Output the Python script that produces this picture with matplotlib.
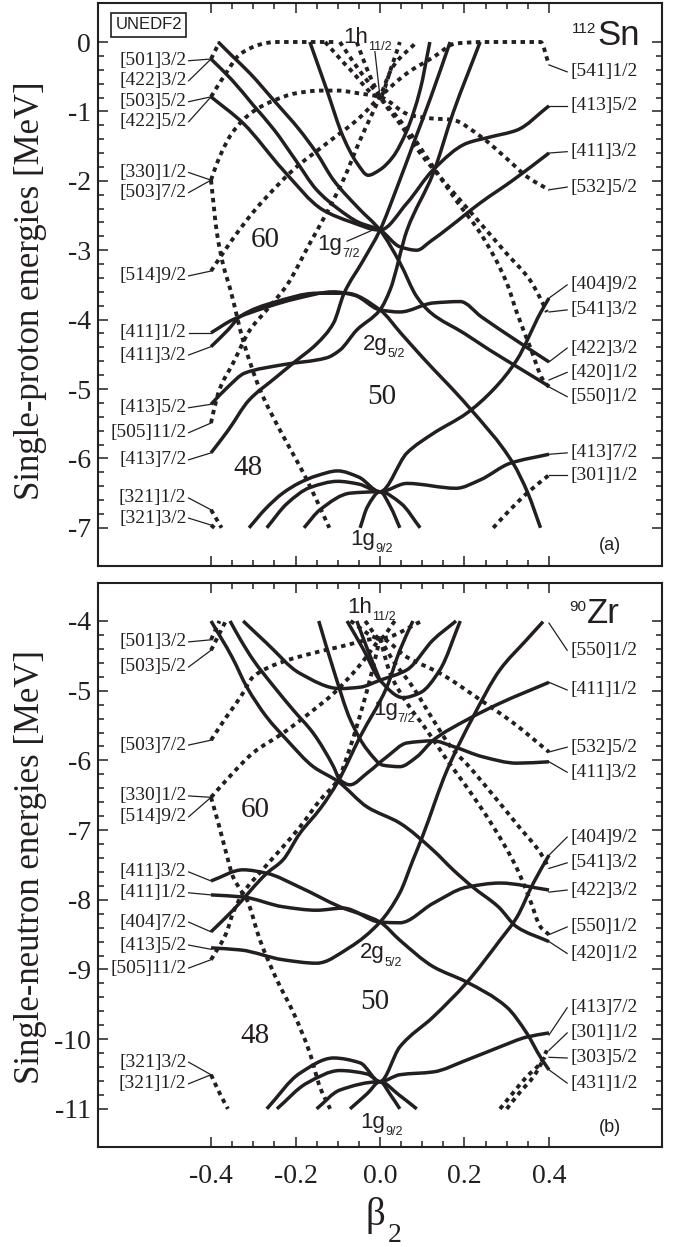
import matplotlib
matplotlib.use('Agg')
import matplotlib.pyplot as plt
from matplotlib.ticker import FixedLocator, FixedFormatter
from matplotlib.path import Path
from matplotlib.patches import PathPatch

plt.rcParams['axes.unicode_minus'] = False
SERIF = 'Liberation Serif'
SANS = 'Liberation Sans'
INK = '#231f20'

# ---------------- data: panel (a) 112Sn protons ----------------
a_s1 = ([-0.383, -0.35, -0.308, -0.25, -0.19, -0.15, -0.11, -0.05, 0.0, 0.047, 0.087, 0.12, 0.2, 0.26, 0.33, 0.4],
        [0.0, -0.2, -0.45, -0.85, -1.27, -1.6, -1.99, -2.4, -2.71, -3.18, -3.67, -3.9, -4.2, -4.44, -4.7, -4.96])
a_s2 = ([-0.4, -0.35, -0.3, -0.25, -0.2, -0.15, -0.1, -0.05, 0.0, 0.047, 0.087, 0.12, 0.166, 0.237, 0.315, 0.4],
        [-0.245, -0.55, -0.91, -1.27, -1.7, -2.13, -2.4, -2.6, -2.71, -2.95, -3.0, -2.87, -2.66, -2.32, -1.99, -1.6])
a_s3 = ([-0.4, -0.324, -0.23, -0.135, -0.07, 0.0, 0.064, 0.126, 0.205, 0.26, 0.324, 0.4],
        [-0.79, -1.17, -1.84, -2.42, -2.59, -2.71, -2.32, -1.84, -1.46, -1.37, -1.27, -0.92])
a_s4 = ([-0.4, -0.36, -0.31, -0.25, -0.2, -0.15, -0.11, -0.085, -0.04, 0.0, 0.04, 0.08, 0.12, 0.166],
        [-5.92, -5.6, -5.16, -4.85, -4.6, -4.35, -4.05, -3.62, -3.15, -2.71, -2.1, -1.45, -0.8, 0.0])
a_s5 = ([-0.4, -0.36, -0.32, -0.23, -0.126, -0.095, -0.055, 0.0, 0.024, 0.064, 0.126, 0.173, 0.237],
        [-5.22, -4.97, -4.77, -4.65, -4.55, -4.44, -4.15, -3.86, -3.57, -2.71, -1.89, -1.02, 0.0])
a_s6 = ([-0.4, -0.348, -0.268, -0.2, -0.11, -0.06, 0.0, 0.047, 0.126, 0.19, 0.24, 0.32, 0.4],
        [-4.19, -4.0, -3.82, -3.7, -3.6, -3.65, -3.86, -3.89, -3.76, -3.74, -3.96, -4.29, -4.61])
a_s7 = ([-0.4, -0.36, -0.33, -0.25, -0.15, -0.08, 0.0, 0.05, 0.1, 0.21, 0.315, 0.35, 0.38],
        [-4.39, -4.15, -3.95, -3.75, -3.62, -3.62, -3.86, -4.2, -4.54, -5.26, -6.07, -6.5, -7.0])
a_s8 = ([-0.166, -0.126, -0.087, -0.055, -0.028, 0.0, 0.03, 0.064, 0.095, 0.118],
        [0.0, -0.69, -1.37, -1.74, -1.92, -1.84, -1.66, -1.27, -0.69, 0.0])
a_s9 = ([-0.31, -0.27, -0.23, -0.19, -0.15, -0.1, -0.05, 0.0, 0.064, 0.18, 0.237, 0.308, 0.4],
        [-7.0, -6.72, -6.5, -6.35, -6.25, -6.18, -6.27, -6.48, -6.36, -6.43, -6.31, -6.07, -5.94])
a_s10 = ([-0.268, -0.22, -0.166, -0.1, -0.05, 0.0, 0.064, 0.126, 0.205, 0.268, 0.324, 0.38, 0.4],
         [-7.0, -6.65, -6.42, -6.33, -6.37, -6.48, -5.92, -5.64, -5.35, -5.01, -4.58, -3.9, -3.69])
a_s11 = ([-0.18, -0.142, -0.07, 0.0, 0.05, 0.095], [-7.0, -6.74, -6.5, -6.48, -6.65, -7.0])
a_s12 = ([-0.047, -0.03, 0.0, 0.025, 0.047], [-7.0, -6.7, -6.48, -6.7, -7.0])

a_d1 = ([-0.4, -0.38], [-0.245, 0.0])
a_d2 = ([-0.4, -0.37, -0.33, -0.28, -0.25, -0.15, -0.1], [-0.79, -0.5, -0.17, -0.03, 0.0, 0.0, 0.0])
a_d3 = ([-0.4, -0.386, -0.37, -0.355, -0.324, -0.284, -0.237, -0.2, -0.173, -0.12],
        [-1.99, -2.75, -3.24, -3.55, -4.3, -5.01, -5.59, -6.0, -6.31, -7.0])
a_d4 = ([-0.4, -0.395, -0.38, -0.35, -0.3, -0.25, -0.2, -0.14, -0.1, -0.05, 0.0, 0.07, 0.12, 0.17, 0.24, 0.3, 0.35, 0.4],
        [-1.99, -1.9, -1.66, -1.31, -1.0, -0.84, -0.74, -0.7, -0.7, -0.74, -0.79, -1.05, -1.1, -1.12, -1.37, -1.68, -1.95, -2.13])
a_d5 = ([-0.4, -0.35, -0.3, -0.268, -0.205, -0.126, -0.05, 0.0, 0.064, 0.126, 0.18, 0.25, 0.32, 0.38, 0.4],
        [-3.3, -2.85, -2.45, -2.23, -1.84, -1.46, -1.1, -0.79, -0.45, -0.22, -0.02, 0.0, 0.0, 0.0, -0.33])
a_d6 = ([-0.4, -0.395, -0.38, -0.348, -0.308, -0.268, -0.22, -0.166, -0.126, -0.087, -0.047, 0.0, 0.03, 0.087],
        [-5.49, -5.35, -5.01, -4.63, -4.15, -3.86, -3.5, -2.9, -2.46, -1.99, -1.41, -0.79, -0.36, 0.0])
a_d7 = ([-0.095, -0.05, 0.0, 0.071, 0.126, 0.18, 0.237, 0.3, 0.324, 0.355, 0.386, 0.4],
        [0.0, -0.4, -0.79, -1.31, -1.8, -2.28, -2.75, -3.47, -3.9, -4.39, -4.87, -4.97])
a_d8 = ([-0.055, -0.03, 0.0, 0.05, 0.095, 0.15, 0.2, 0.25, 0.3, 0.355, 0.38, 0.395],
        [0.0, -0.4, -0.79, -1.2, -1.6, -2.0, -2.35, -2.7, -3.05, -3.43, -3.7, -3.89])
a_d9 = ([-0.13, -0.07, 0.0, 0.025, 0.047], [0.0, -0.4, -0.79, -0.4, 0.0])
a_d10 = ([-0.4, -0.375], [-6.74, -7.0])
a_d11 = ([-0.4, -0.392], [-6.96, -7.0])
a_d12 = ([0.268, 0.3, 0.348, 0.4], [-7.0, -6.79, -6.5, -6.24])

a_left_labels = ["[501]3/2", "[422]3/2", "[503]5/2", "[422]5/2", "[330]1/2", "[503]7/2", "[514]9/2",
                 "[411]1/2", "[411]3/2", "[413]5/2", "[505]11/2", "[413]7/2", "[321]1/2", "[321]3/2"]
a_left_text_e = [-0.27, -0.56, -0.86, -1.15, -1.88, -2.17, -3.37, -4.19, -4.51, -5.27, -5.63, -6.02, -6.57, -6.86]
a_left_end_e = [-0.245, -0.245, -0.79, -0.79, -1.99, -1.99, -3.3, -4.19, -4.39, -5.22, -5.49, -5.92, -6.74, -6.96]
a_right_labels = ["[541]1/2", "[413]5/2", "[411]3/2", "[532]5/2", "[404]9/2", "[541]3/2", "[422]3/2",
                  "[420]1/2", "[550]1/2", "[413]7/2", "[301]1/2"]
a_right_text_e = [-0.43, -0.92, -1.58, -2.09, -3.5, -3.86, -4.41, -4.76, -5.11, -5.92, -6.24]
a_right_end_e = [-0.33, -0.92, -1.6, -2.13, -3.69, -3.89, -4.61, -4.87, -4.97, -5.94, -6.24]

# ---------------- data: panel (b) 90Zr neutrons ----------------
b_s1 = ([-0.4, -0.35, -0.315, -0.268, -0.22, -0.158, -0.1, -0.03, 0.047, 0.126, 0.173, 0.22, 0.28, 0.324, 0.4],
        [-4.0, -4.52, -4.95, -5.38, -5.71, -6.09, -6.3, -6.67, -6.9, -7.29, -7.57, -7.82, -8.1, -8.39, -8.6])
b_s2 = ([-0.355, -0.33, -0.3, -0.25, -0.205, -0.158, -0.11, -0.095, -0.071, -0.03, 0.016, 0.064, 0.126, 0.173, 0.244, 0.324, 0.4],
        [-4.0, -4.27, -4.56, -4.95, -5.28, -5.61, -6.09, -6.28, -6.35, -6.18, -5.95, -5.75, -5.72, -5.8, -5.95, -6.04, -6.02])
b_s3 = ([-0.324, -0.268, -0.19, -0.095, -0.047, 0.0, 0.064, 0.126, 0.18],
        [-4.0, -4.32, -4.75, -4.97, -4.95, -4.85, -4.7, -4.27, -4.0])
b_s4 = ([-0.145, -0.11, -0.07, -0.03, 0.008, 0.047, 0.087, 0.126, 0.205, 0.284, 0.4],
        [-4.0, -4.7, -5.42, -5.85, -6.07, -6.09, -5.95, -5.71, -5.42, -5.18, -4.88])
b_s5 = ([-0.078, -0.04, 0.0, 0.055, 0.095, 0.142, 0.19], [-4.0, -4.4, -4.85, -5.1, -5.03, -4.7, -4.0])
b_s6 = ([-0.055, -0.03, 0.0], [-4.0, -4.4, -4.85])
b_s7 = ([-0.4, -0.348, -0.268, -0.23, -0.19, -0.14, -0.1, -0.047, 0.016, 0.047, 0.078],
        [-8.46, -8.15, -7.62, -7.43, -7.05, -6.68, -6.31, -5.66, -4.95, -4.42, -4.0])
b_s8 = ([-0.4, -0.33, -0.23, -0.15, -0.071, 0.0, 0.047, 0.078, 0.1, 0.158, 0.22, 0.284, 0.347, 0.386],
        [-8.69, -8.72, -8.86, -8.91, -8.68, -8.32, -7.9, -7.43, -7.1, -6.15, -5.38, -4.7, -4.27, -4.01])
b_s9 = ([-0.4, -0.324, -0.268, -0.19, -0.095, 0.0, 0.047, 0.126, 0.205, 0.3, 0.347, 0.38, 0.4],
        [-7.73, -7.57, -7.62, -7.82, -8.1, -8.32, -8.58, -8.96, -9.18, -9.54, -9.91, -10.26, -10.44])
b_s10 = ([-0.4, -0.324, -0.23, -0.15, -0.087, 0.0, 0.047, 0.126, 0.205, 0.284, 0.4],
         [-7.93, -7.96, -8.1, -8.15, -8.12, -8.32, -8.33, -8.05, -7.82, -7.76, -7.86])
b_s11 = ([-0.268, -0.19, -0.11, -0.047, 0.0, 0.047, 0.126, 0.205, 0.284, 0.347, 0.4],
         [-11.0, -10.49, -10.27, -10.34, -10.61, -10.51, -10.47, -10.3, -10.11, -9.97, -9.91])
b_s12 = ([-0.244, -0.173, -0.095, -0.03, 0.0, 0.047, 0.126, 0.205, 0.284, 0.324, 0.363, 0.4],
         [-11.0, -10.63, -10.45, -10.5, -10.61, -10.11, -9.68, -9.19, -8.58, -8.25, -7.76, -7.36])
b_s13 = ([-0.15, -0.095, 0.0, 0.045, 0.087], [-11.0, -10.73, -10.61, -10.8, -11.0])
b_s14 = ([-0.071, -0.03, 0.0, 0.025, 0.047], [-11.0, -10.78, -10.61, -10.8, -11.0])

b_d1 = ([-0.4, -0.38], [-4.27, -4.0])
b_d2 = ([-0.4, -0.365], [-4.42, -4.0])
b_d3 = ([-0.4, -0.364, -0.33, -0.3, -0.237, -0.158, -0.095, 0.0, 0.064, 0.142, 0.237, 0.315, 0.4],
        [-5.71, -5.38, -5.09, -4.8, -4.6, -4.46, -4.37, -4.25, -4.52, -4.75, -5.13, -5.46, -5.88])
b_d4 = ([-0.4, -0.38, -0.364, -0.348, -0.33, -0.315, -0.284, -0.244, -0.205, -0.166, -0.142, -0.118],
        [-6.53, -6.96, -7.33, -7.67, -7.86, -8.0, -8.58, -9.15, -9.62, -10.2, -10.69, -11.0])
b_d5 = ([-0.4, -0.348, -0.3, -0.23, -0.158, -0.11, -0.05, 0.0],
        [-6.53, -6.18, -5.89, -5.61, -5.28, -5.04, -4.65, -4.25])
b_d6 = ([-0.4, -0.364, -0.348, -0.324, -0.284, -0.237, -0.19, -0.142, -0.1, -0.07, -0.04, -0.02, 0.0],
        [-8.86, -8.48, -8.19, -7.9, -7.61, -7.29, -6.96, -6.57, -6.28, -5.8, -5.2, -4.75, -4.25])
b_d7 = ([0.0, 0.03, 0.078, 0.126, 0.173, 0.205, 0.268, 0.33, 0.38, 0.4],
        [-4.25, -4.56, -4.95, -5.42, -5.85, -6.05, -6.5, -6.96, -7.33, -7.55])
b_d8 = ([0.0, 0.024, 0.064, 0.11, 0.158, 0.205, 0.268, 0.324, 0.355, 0.38, 0.4],
        [-4.25, -4.75, -5.18, -5.56, -5.99, -6.38, -6.95, -7.55, -8.0, -8.39, -8.5])
b_d9 = ([-0.07, 0.0, 0.035], [-4.0, -4.25, -4.0])
b_d10 = ([-0.035, 0.0, 0.1], [-4.0, -4.25, -4.0])
b_d11 = ([-0.4, -0.38, -0.36], [-10.51, -10.77, -11.0])
b_d12 = ([0.284, 0.315, 0.347, 0.38, 0.395], [-11.0, -10.77, -10.54, -10.34, -10.16])
b_d13 = ([0.3, 0.33, 0.363, 0.39], [-11.0, -10.77, -10.54, -10.26])

b_left_labels = ["[501]3/2", "[503]5/2", "[503]7/2", "[330]1/2", "[514]9/2", "[411]3/2", "[411]1/2",
                 "[404]7/2", "[413]5/2", "[505]11/2", "[321]3/2", "[321]1/2"]
b_left_text_e = [-4.30, -4.66, -5.78, -6.51, -6.81, -7.6, -7.9, -8.32, -8.65, -8.98, -10.33, -10.64]
b_left_end_e = [-4.27, -4.42, -5.71, -6.53, -6.53, -7.73, -7.93, -8.46, -8.71, -8.86, -10.51, -10.51]
b_right_labels = ["[550]1/2", "[411]1/2", "[532]5/2", "[411]3/2", "[404]9/2", "[541]3/2", "[422]3/2",
                  "[550]1/2", "[420]1/2", "[413]7/2", "[301]1/2", "[303]5/2", "[431]1/2"]
b_right_text_e = [-4.42, -4.99, -5.81, -6.17, -7.1, -7.47, -7.86, -8.39, -8.77, -9.55, -9.91, -10.27, -10.63]
b_right_end_e = [-4.03, -4.88, -5.88, -6.02, -7.36, -7.55, -7.89, -8.5, -8.6, -9.94, -10.16, -10.26, -10.44]

x_ticks = [-0.4, -0.2, 0.0, 0.2, 0.4]
x_tick_labels = ["-0.4", "-0.2", "0.0", "0.2", "0.4"]
a_y_ticks = [0, -1, -2, -3, -4, -5, -6, -7]
b_y_ticks = [-4, -5, -6, -7, -8, -9, -10, -11]

# ---------------- figure ----------------
W, H = 680, 1247
fig = plt.figure(figsize=(W / 100, H / 100), dpi=100)
axa = fig.add_axes([98 / W, 1 - 566 / H, 564 / W, 563 / H])
axb = fig.add_axes([98 / W, 1 - 1147 / H, 564 / W, 564 / H])

SOLID = dict(edgecolor=INK, lw=2.5, capstyle='butt', joinstyle='round', zorder=3, fill=False)
DOT = dict(edgecolor=INK, lw=2.8, linestyle=(0, (1.15, 1.15)), capstyle='butt', zorder=2, fill=False)


def smooth_path(b, e):
    """Bezier path through the read points (shape-preserving tangents)."""
    n = len(b)
    h = [b[i + 1] - b[i] for i in range(n - 1)]
    d = [(e[i + 1] - e[i]) / h[i] for i in range(n - 1)]
    if n == 2:
        m = [d[0], d[0]]
    else:
        m = [0.0] * n
        for k in range(1, n - 1):
            if d[k - 1] * d[k] <= 0:
                m[k] = 0.0
            else:
                w1 = 2 * h[k] + h[k - 1]
                w2 = h[k] + 2 * h[k - 1]
                m[k] = (w1 + w2) / (w1 / d[k - 1] + w2 / d[k])
        m[0] = d[0]
        m[-1] = d[-1]
    verts = [(b[0], e[0])]
    codes = [Path.MOVETO]
    for i in range(n - 1):
        verts += [(b[i] + h[i] / 3, e[i] + m[i] * h[i] / 3),
                  (b[i + 1] - h[i] / 3, e[i + 1] - m[i + 1] * h[i] / 3),
                  (b[i + 1], e[i + 1])]
        codes += [Path.CURVE4] * 3
    return Path(verts, codes)


def setup(ax, ylo, yhi, yticks, bottom_labels):
    ax.set_xlim(-0.6675, 0.6675)
    ax.set_ylim(ylo, yhi)
    ax.xaxis.set_major_locator(FixedLocator(x_ticks))
    ax.xaxis.set_major_formatter(FixedFormatter(x_tick_labels))
    ax.xaxis.set_minor_locator(FixedLocator([x_ticks[0] + 0.05 * i for i in range(17)]))
    ax.yaxis.set_major_locator(FixedLocator(yticks))
    ax.yaxis.set_major_formatter(FixedFormatter([str(v) for v in yticks]))
    ax.yaxis.set_minor_locator(FixedLocator([min(yticks) + 0.2 * i for i in range(36)]))
    ax.tick_params(which='both', direction='in', top=True, right=True, color=INK, width=1.1)
    ax.tick_params(which='major', length=7)
    ax.tick_params(which='minor', length=4.3)
    ax.tick_params(axis='y', labelsize=20, pad=5, labelcolor=INK)
    ax.tick_params(axis='x', labelsize=20, pad=12, labelcolor=INK, labelbottom=bottom_labels)
    for lab in ax.get_xticklabels() + ax.get_yticklabels():
        lab.set_fontfamily(SERIF)
    for sp in ax.spines.values():
        sp.set_linewidth(1.5)
        sp.set_color(INK)


def curves(ax, solids, dots):
    for b, e in dots:
        ax.add_patch(PathPatch(smooth_path(b, e), **DOT))
    for b, e in solids:
        ax.add_patch(PathPatch(smooth_path(b, e), **SOLID))


def side_labels(ax, names, text_e, end_e, left):
    for n, te, ee in zip(names, text_e, end_e):
        if left:
            ax.plot([-0.453, -0.4], [te, ee], color=INK, lw=0.9, zorder=4)
            ax.text(-0.458, te, n, ha='right', va='center', fontsize=14, family=SERIF, color=INK)
        else:
            ax.plot([0.4, 0.443], [ee, te], color=INK, lw=0.9, zorder=4)
            ax.text(0.452, te, n, ha='left', va='center', fontsize=14, family=SERIF, color=INK)


def sub_label(ax, x, y, main, sub, size=16, subsize=9):
    t = ax.text(x, y, main, ha='left', va='baseline', fontsize=size, family=SANS, color=INK, zorder=6)
    ax.annotate(sub, xy=(1, 0), xycoords=t, xytext=(0.0, -1.6), textcoords='offset points',
                ha='left', va='baseline', fontsize=subsize, family=SANS, color=INK, zorder=6)


# panel (a)
setup(axa, -7.55, 0.562, a_y_ticks, False)
curves(axa, [a_s1, a_s2, a_s3, a_s4, a_s5, a_s6, a_s7, a_s8, a_s9, a_s10, a_s11, a_s12],
       [a_d1, a_d2, a_d3, a_d4, a_d5, a_d6, a_d7, a_d8, a_d9, a_d10, a_d11, a_d12])
side_labels(axa, a_left_labels, a_left_text_e, a_left_end_e, True)
side_labels(axa, a_right_labels, a_right_text_e, a_right_end_e, False)
axa.text(0.09, 0.961, "UNEDF2", transform=axa.transAxes, ha='center', va='center', fontsize=12,
         family=SANS, color=INK,
         bbox=dict(boxstyle='square,pad=0.25', fc='white', ec=INK, lw=1.2))
axa.text(0.514, -0.04, "Sn", ha='left', va='baseline', fontsize=25, family=SANS, color=INK)
axa.text(0.512, 0.13, "112", ha='right', va='baseline', fontsize=11, family=SANS, color=INK)
sub_label(axa, -0.088, -0.014, "1h", "11/2")
axa.plot([-0.012, 0.0], [-0.14, -0.79], color=INK, lw=0.9, zorder=4)
sub_label(axa, -0.149, -3.0, "1g", "7/2")
axa.plot([-0.078, -0.01], [-2.87, -2.69], color=INK, lw=0.9, zorder=4)
sub_label(axa, -0.04, -4.44, "2g", "5/2")
sub_label(axa, -0.071, -7.25, "1g", "9/2")
for txt, x, y in [("60", -0.272, -2.85), ("50", 0.005, -5.12), ("48", -0.312, -6.14)]:
    axa.text(x, y, txt, ha='center', va='center', fontsize=21, family=SERIF, color=INK)
axa.text(0.908, 0.037, "(a)", transform=axa.transAxes, ha='center', va='center', fontsize=13,
         family=SANS, color=INK)

# panel (b)
setup(axb, -11.547, -3.455, b_y_ticks, True)
curves(axb, [b_s1, b_s2, b_s3, b_s4, b_s5, b_s6, b_s7, b_s8, b_s9, b_s10, b_s11, b_s12, b_s13, b_s14],
       [b_d1, b_d2, b_d3, b_d4, b_d5, b_d6, b_d7, b_d8, b_d9, b_d10, b_d11, b_d12, b_d13])
side_labels(axb, b_left_labels, b_left_text_e, b_left_end_e, True)
side_labels(axb, b_right_labels, b_right_text_e, b_right_end_e, False)
axb.text(0.49, -4.03, "Zr", ha='left', va='baseline', fontsize=25, family=SANS, color=INK)
axb.text(0.488, -3.86, "90", ha='right', va='baseline', fontsize=11, family=SANS, color=INK)
sub_label(axb, -0.078, -3.885, "1h", "11/2")
sub_label(axb, -0.017, -5.35, "1g", "7/2")
sub_label(axb, -0.047, -8.84, "2g", "5/2")
sub_label(axb, -0.047, -11.27, "1g", "9/2")
for txt, x, y in [("60", -0.296, -6.71), ("50", -0.012, -9.47), ("48", -0.296, -9.95)]:
    axb.text(x, y, txt, ha='center', va='center', fontsize=21, family=SERIF, color=INK)
axb.text(0.908, 0.034, "(b)", transform=axb.transAxes, ha='center', va='center', fontsize=13,
         family=SANS, color=INK)

# axis titles
fig.text(31 / W, 1 - 291 / H, "Single-proton energies [MeV]", rotation=90, ha='center', va='center',
         fontsize=25, family=SERIF, color=INK)
fig.text(31 / W, 1 - 867 / H, "Single-neutron energies [MeV]", rotation=90, ha='center', va='center',
         fontsize=25, family=SERIF, color=INK)
fig.text(365 / W, 1 - 1225 / H, "\u03b2", ha='left', va='baseline', fontsize=28, family=SERIF, color=INK)
fig.text(388 / W, 1 - 1242 / H, "2", ha='left', va='baseline', fontsize=20, family=SERIF, color=INK)

fig.savefig('out.png', dpi=100)
